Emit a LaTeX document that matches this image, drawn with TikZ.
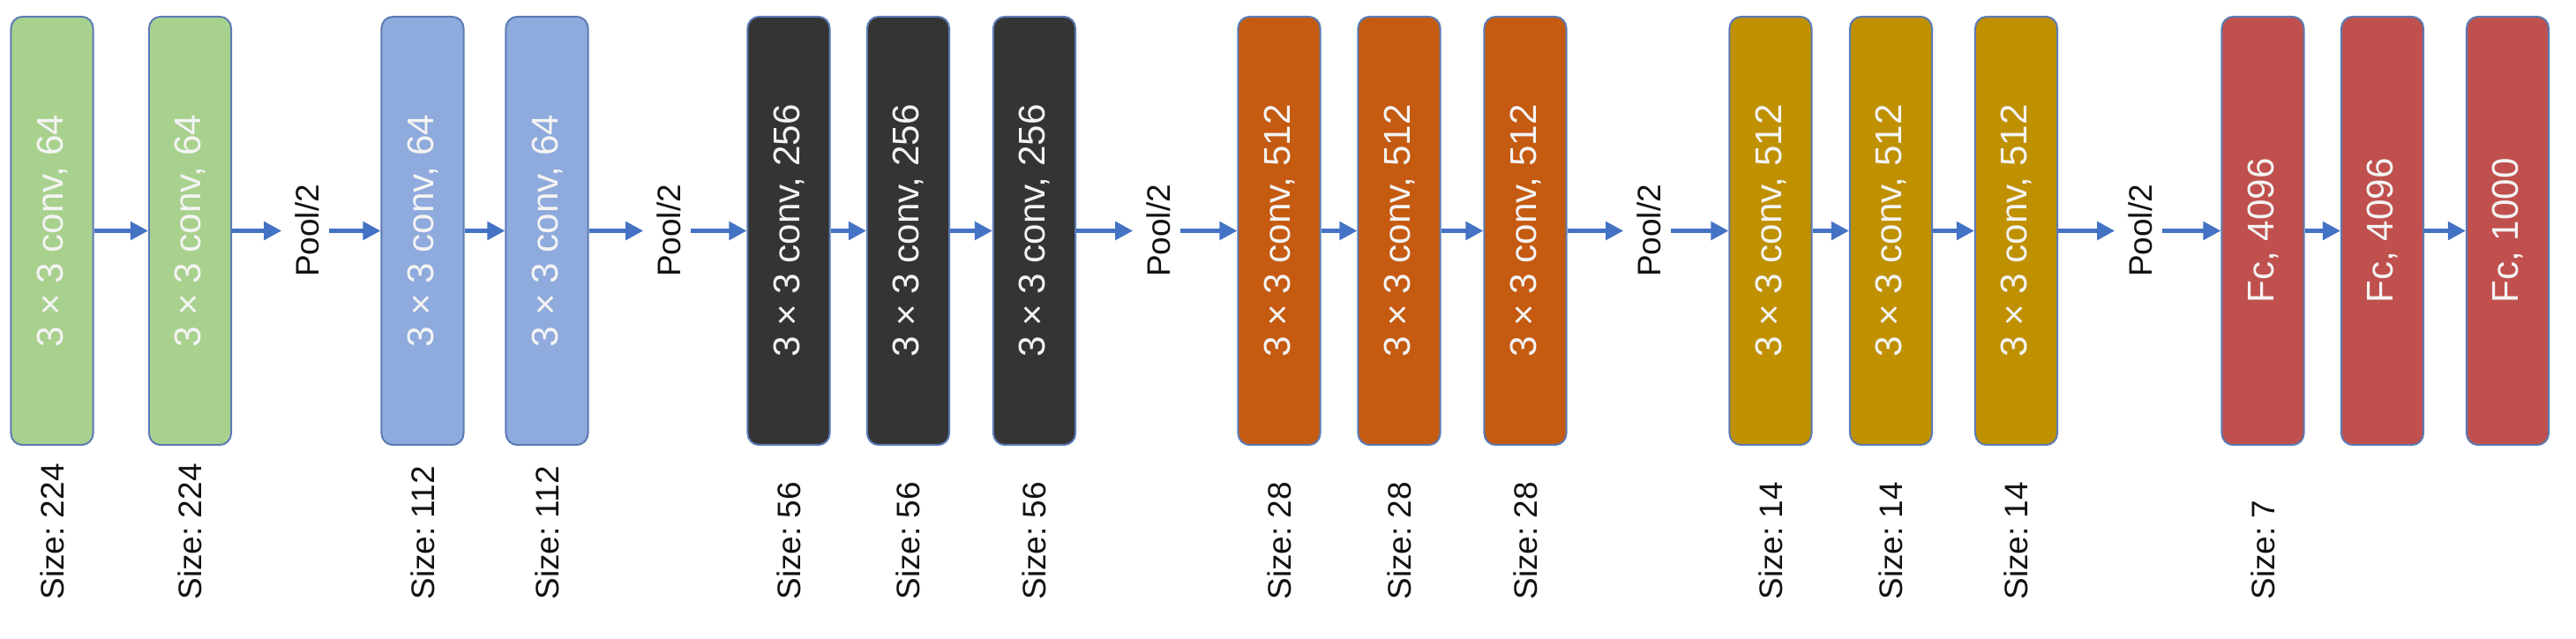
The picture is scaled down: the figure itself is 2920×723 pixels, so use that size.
\documentclass[tikz,border=0pt]{standalone}
\usepackage{fontspec}
\setmainfont{Liberation Sans}
\usetikzlibrary{arrows.meta}
\frenchspacing
\definecolor{cgreen}{HTML}{A9D18E}
\definecolor{cblue}{HTML}{8FAADC}
\definecolor{cdark}{HTML}{343434}
\definecolor{corange}{HTML}{C55A11}
\definecolor{cgold}{HTML}{BF9000}
\definecolor{cred}{HTML}{C0504D}
\definecolor{cedge}{HTML}{5B7BB4}
\definecolor{carrow}{HTML}{4472C4}
\definecolor{ctext}{HTML}{111111}
\definecolor{cbox}{HTML}{F4F4F4}
\begin{document}
\begin{tikzpicture}[x=0.01cm,y=-0.01cm,
  layer/.style={draw=cedge, line width=0.02cm, rounded corners=0.13cm,
    minimum width=0.93cm, minimum height=4.85cm, inner sep=0pt,
    text=cbox, font=\fontsize{12pt}{14pt}\selectfont},
  pool/.style={inner sep=0pt, text=ctext, font=\fontsize{10.5pt}{12pt}\selectfont},
  sizelbl/.style={inner sep=0pt, anchor=south, text=ctext, font=\fontsize{10.5pt}{12pt}\selectfont},
  flow/.style={draw=carrow, line width=0.05cm, -{Triangle[length=0.2cm,width=0.2cm]}},
  topool/.style={flow, shorten >=0.145cm},
  frompool/.style={flow, shorten <=0.105cm},
]
\useasboundingbox (0,0) rectangle (2920,723);
\coordinate (base) at (0,680);

% group 1
\node[layer, fill=cgreen] (b1) at (59,261.5) {\rotatebox{90}{3 × 3 conv, 64}};
\node[layer, fill=cgreen] (b2) at (215.5,261.5) {\rotatebox{90}{3 × 3 conv, 64}};
\node[pool] (p1) at (348,261.5) {\rotatebox{90}{Pool/2}};
% group 2
\node[layer, fill=cblue] (b3) at (479,261.5) {\rotatebox{90}{3 × 3 conv, 64}};
\node[layer, fill=cblue] (b4) at (620,261.5) {\rotatebox{90}{3 × 3 conv, 64}};
\node[pool] (p2) at (758,261.5) {\rotatebox{90}{Pool/2}};
% group 3
\node[layer, fill=cdark] (b5) at (894,261.5) {\rotatebox{90}{3 × 3 conv, 256}};
\node[layer, fill=cdark] (b6) at (1029.5,261.5) {\rotatebox{90}{3 × 3 conv, 256}};
\node[layer, fill=cdark] (b7) at (1172.5,261.5) {\rotatebox{90}{3 × 3 conv, 256}};
\node[pool] (p3) at (1313,261.5) {\rotatebox{90}{Pool/2}};
% group 4
\node[layer, fill=corange] (b8) at (1450,261.5) {\rotatebox{90}{3 × 3 conv, 512}};
\node[layer, fill=corange] (b9) at (1586,261.5) {\rotatebox{90}{3 × 3 conv, 512}};
\node[layer, fill=corange] (b10) at (1729,261.5) {\rotatebox{90}{3 × 3 conv, 512}};
\node[pool] (p4) at (1869,261.5) {\rotatebox{90}{Pool/2}};
% group 5
\node[layer, fill=cgold] (b11) at (2007,261.5) {\rotatebox{90}{3 × 3 conv, 512}};
\node[layer, fill=cgold] (b12) at (2143.5,261.5) {\rotatebox{90}{3 × 3 conv, 512}};
\node[layer, fill=cgold] (b13) at (2285.5,261.5) {\rotatebox{90}{3 × 3 conv, 512}};
\node[pool] (p5) at (2426,261.5) {\rotatebox{90}{Pool/2}};
% group 6
\node[layer, fill=cred] (b14) at (2565,261.5) {\rotatebox{90}{Fc, 4096}};
\node[layer, fill=cred] (b15) at (2700.5,261.5) {\rotatebox{90}{Fc, 4096}};
\node[layer, fill=cred] (b16) at (2842.5,261.5) {\rotatebox{90}{Fc, 1000}};

% size labels
\node[sizelbl] (s1) at (b1 |- base) {\rotatebox{90}{Size: 224}};
\node[sizelbl] (s2) at (b2 |- base) {\rotatebox{90}{Size: 224}};
\node[sizelbl] (s3) at (b3 |- base) {\rotatebox{90}{Size: 112}};
\node[sizelbl] (s4) at (b4 |- base) {\rotatebox{90}{Size: 112}};
\node[sizelbl] (s5) at (b5 |- base) {\rotatebox{90}{Size: 56}};
\node[sizelbl] (s6) at (b6 |- base) {\rotatebox{90}{Size: 56}};
\node[sizelbl] (s7) at (b7 |- base) {\rotatebox{90}{Size: 56}};
\node[sizelbl] (s8) at (b8 |- base) {\rotatebox{90}{Size: 28}};
\node[sizelbl] (s9) at (b9 |- base) {\rotatebox{90}{Size: 28}};
\node[sizelbl] (s10) at (b10 |- base) {\rotatebox{90}{Size: 28}};
\node[sizelbl] (s11) at (b11 |- base) {\rotatebox{90}{Size: 14}};
\node[sizelbl] (s12) at (b12 |- base) {\rotatebox{90}{Size: 14}};
\node[sizelbl] (s13) at (b13 |- base) {\rotatebox{90}{Size: 14}};
\node[sizelbl] (s14) at (b14 |- base) {\rotatebox{90}{Size: 7}};

% connectors
\draw[flow] (b1.east) -- (b2.west);
\draw[topool] (b2.east) -- (p1.west);
\draw[frompool] (p1.east) -- (b3.west);
\draw[flow] (b3.east) -- (b4.west);
\draw[topool] (b4.east) -- (p2.west);
\draw[frompool] (p2.east) -- (b5.west);
\draw[flow] (b5.east) -- (b6.west);
\draw[flow] (b6.east) -- (b7.west);
\draw[topool] (b7.east) -- (p3.west);
\draw[frompool] (p3.east) -- (b8.west);
\draw[flow] (b8.east) -- (b9.west);
\draw[flow] (b9.east) -- (b10.west);
\draw[topool] (b10.east) -- (p4.west);
\draw[frompool] (p4.east) -- (b11.west);
\draw[flow] (b11.east) -- (b12.west);
\draw[flow] (b12.east) -- (b13.west);
\draw[topool] (b13.east) -- (p5.west);
\draw[frompool] (p5.east) -- (b14.west);
\draw[flow] (b14.east) -- (b15.west);
\draw[flow] (b15.east) -- (b16.west);
\end{tikzpicture}
\end{document}
